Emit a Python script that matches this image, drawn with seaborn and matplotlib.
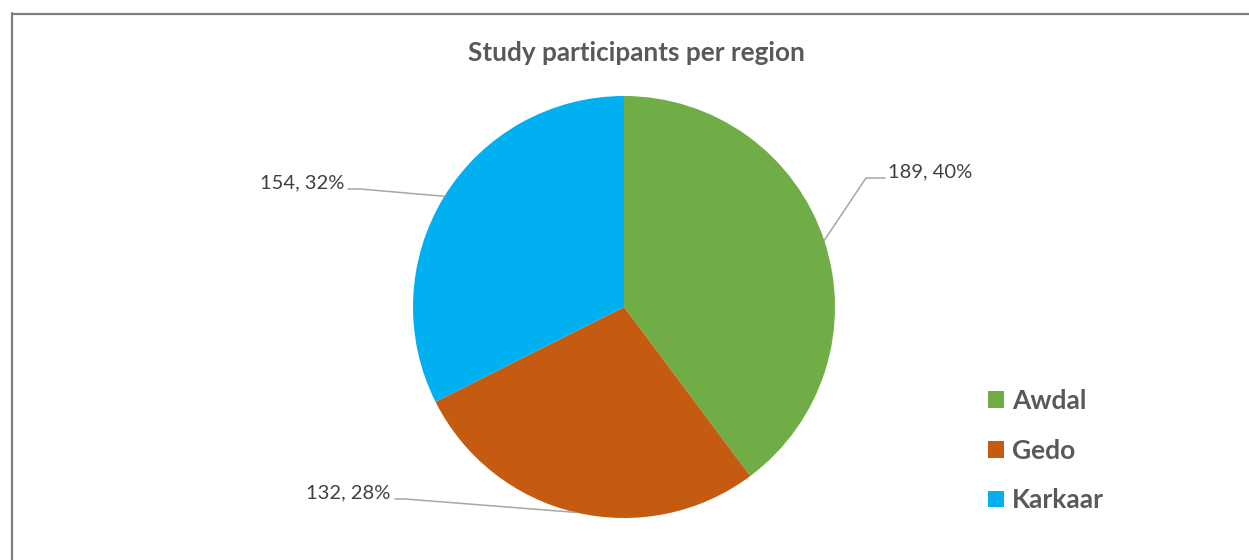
import numpy as np
import matplotlib
matplotlib.use("Agg")
import matplotlib.pyplot as plt
from matplotlib.lines import Line2D
import seaborn as sns

# Participants per region
regions = ["Awdal", "Gedo", "Karkaar"]
counts = [189, 132, 154]
percent_labels = ["40%", "28%", "32%"]
colors = ["#70AD47", "#C55A11", "#00B0F0"]

sns.set_theme(style="white")
plt.rcParams["font.family"] = ["Lato", "DejaVu Sans"]

W, H = 1249, 560
fig = plt.figure(figsize=(W / 100, H / 100), dpi=100)
fig.patch.set_facecolor("white")

# pie area: centre (624, 307) px, radius 211 px
cx, cy, r = 624, 307, 211
ax = fig.add_axes([(cx - r) / W, (H - cy - r) / H, 2 * r / W, 2 * r / H])
wedges, _ = ax.pie(counts, colors=colors, startangle=90, counterclock=False,
                   radius=1.0, wedgeprops=dict(linewidth=0))
ax.set_xlim(-1, 1)
ax.set_ylim(-1, 1)
ax.set_aspect("equal")
ax.axis("off")


def px(x, y):
    """Pixel position -> pie data coordinates."""
    return (x - cx) / r, (cy - y) / r


# leader lines: wedge edge midpoint -> elbow -> label
label_layout = {
    # elbow px, end px, text px, text alignment
    "Awdal": ((866, 178), (885, 178), (888, 172), "left"),
    "Gedo": ((405, 499), (395, 499), (390, 493), "right"),
    "Karkaar": ((360, 189), (348, 189), (344, 183), "right"),
}

for w, name, n, pct in zip(wedges, regions, counts, percent_labels):
    mid = np.deg2rad((w.theta1 + w.theta2) / 2)
    sx, sy = np.cos(mid), np.sin(mid)
    elbow, end, tpos, ha = label_layout[name]
    ex, ey = px(*elbow)
    nx, ny = px(*end)
    ax.add_line(Line2D([sx, ex, nx], [sy, ey, ny], color="#A6A6A6",
                       linewidth=1.1, clip_on=False))
    tx, ty = px(*tpos)
    ax.text(tx, ty, f"{n}, {pct}", ha=ha, va="center", fontsize=14.5,
            color="#404040", clip_on=False)

fig.text(636 / W, 1 - 53 / H, "Study participants per region",
         ha="center", va="center", fontsize=18.8, fontweight="bold",
         color="#595959")

leg = fig.legend(wedges, regions, loc="upper left",
                 bbox_to_anchor=(988 / W, 1 - 389 / H), frameon=False,
                 borderaxespad=0, borderpad=0,
                 handlelength=0.6, handleheight=0.6, handletextpad=0.3,
                 labelspacing=0.97, prop=dict(size=19, weight="bold"))
for t in leg.get_texts():
    t.set_color("#595959")

# chart frame edges
fig.add_artist(Line2D([12 / W, 12 / W], [0, 1 - 13 / H], color="#808080",
                      linewidth=1.6, transform=fig.transFigure))
fig.add_artist(Line2D([12 / W, 1], [1 - 13.5 / H, 1 - 13.5 / H],
                      color="#808080", linewidth=1.6,
                      transform=fig.transFigure))

fig.savefig("out.png", dpi=100, facecolor="white")
